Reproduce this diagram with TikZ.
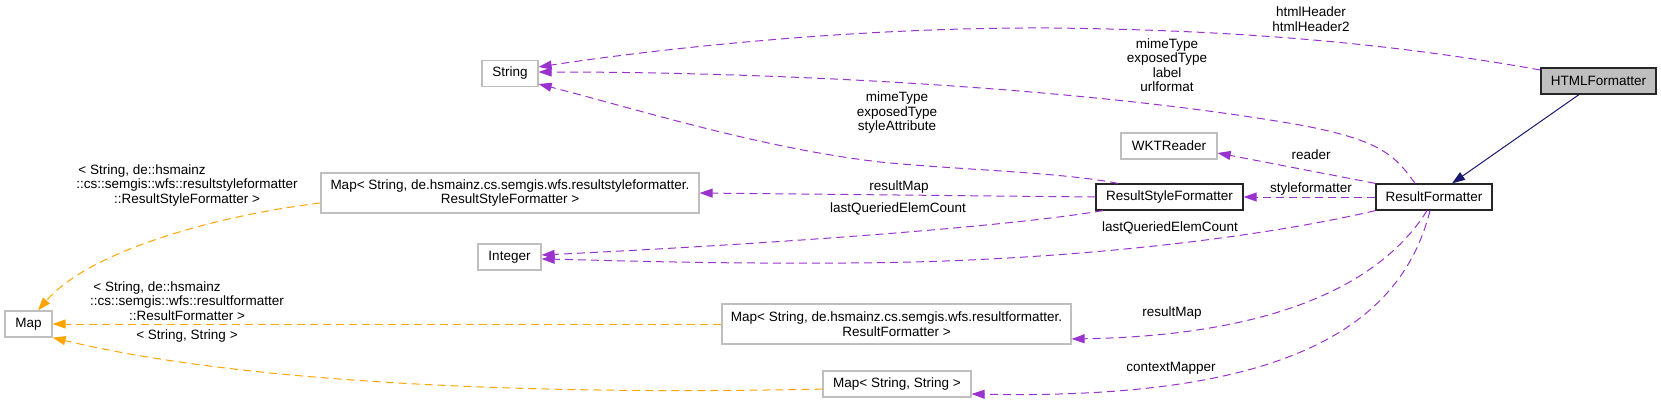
\documentclass[tikz,border=0pt]{standalone}
\usepackage{fontspec}
\setmainfont{Liberation Sans}
\usetikzlibrary{arrows.meta}
\definecolor{purp}{HTML}{9A32CD}
\definecolor{orng}{HTML}{FFA500}
\definecolor{navy}{HTML}{191970}
\definecolor{boxgray}{HTML}{BFBFBF}
\definecolor{fillgray}{HTML}{BFBFBF}
\begin{document}
\begin{tikzpicture}[x=1pt,y=-1pt,
  every node/.style={font=\fontsize{13.5}{14.5}\selectfont, inner sep=0pt},
  cls/.style={draw=boxgray, line width=1.2pt, fill=white, minimum height=26pt, align=center},
  mainbox/.style={draw=black!85, line width=1.2pt, fill=white, minimum height=26pt},
  usage/.style={draw=purp, line width=1pt, dash pattern=on 8pt off 5pt, -{Triangle[length=13pt,width=9pt]}},
  tmpl/.style={draw=orng, line width=1pt, dash pattern=on 8pt off 5pt, -{Triangle[length=13pt,width=9pt]}},
  inh/.style={draw=navy, line width=1pt, -{Triangle[length=13pt,width=9pt]}},
  lbl/.style={align=center}
]
\useasboundingbox (0,0) rectangle (1661,404);
% nodes
\node[mainbox, fill=fillgray, minimum width=115pt] (html) at (1598.5,81) {HTMLFormatter};
\node[mainbox, minimum width=116pt] (rf) at (1434,197) {ResultFormatter};
\node[mainbox, minimum width=147pt] (rsf) at (1169.5,197) {ResultStyleFormatter};
\node[cls, minimum width=96pt] (wkt) at (1169,146) {WKTReader};
\node[cls, minimum width=56pt] (str) at (510,73.5) {String};
\node[cls, minimum width=378pt, minimum height=40pt] (mrsf) at (510,193) {Map< String, de.hsmainz.cs.semgis.wfs.resultstyleformatter.\\ResultStyleFormatter >};
\node[cls, minimum width=63pt] (int) at (509.5,257) {Integer};
\node[cls, minimum width=47pt] (map) at (28.5,324) {Map};
\node[cls, minimum width=349pt, minimum height=40pt] (mrf) at (896.5,324) {Map< String, de.hsmainz.cs.semgis.wfs.resultformatter.\\ResultFormatter >};
\node[cls, minimum width=148pt] (mss) at (897,384) {Map< String, String >};
% edges
\draw[inh] ([xshift=-19.5pt]html.south) -- ([xshift=18pt]rf.north);
\draw[usage] ([yshift=11pt]html.west) .. controls (1400,45) and (1250,30) .. (1050,28) .. controls (850,27) and (650,50) .. ([yshift=6.5pt]str.east);
\draw[usage] ([xshift=-19pt]rf.north) .. controls (1395,155) and (1380,140) .. (1300,125) .. controls (1100,90) and (800,72) .. ([yshift=1.5pt]str.east);
\draw[usage] ([xshift=-51.5pt]rsf.north) .. controls (1060,172) and (960,170) .. (880,162) .. controls (760,148) and (640,110) .. ([yshift=-10.5pt]str.east);
\draw[usage] (rf.north west) -- ([yshift=-7pt]wkt.east);
\draw[usage] (rf.west) -- (rsf.east);
\draw[usage] (rsf.west) -- (mrsf.east);
\draw[usage] ([xshift=-66.5pt]rsf.south) .. controls (1000,228) and (750,245) .. ([yshift=2pt]int.east);
\draw[usage] (rf.south west) .. controls (1250,240) and (1050,262) .. (850,263) .. controls (700,264) and (600,260) .. ([yshift=-2pt]int.east);
\draw[usage] ([xshift=-7pt]rf.south) .. controls (1390,270) and (1300,335) .. ([yshift=-15pt]mrf.east);
\draw[usage] ([xshift=-4pt]rf.south) .. controls (1400,330) and (1280,400) .. ([yshift=-10pt]mss.east);
\draw[tmpl] ([yshift=-10pt]mrsf.west) .. controls (220,215) and (90,250) .. ([xshift=9.5pt]map.north);
\draw[tmpl] (mrf.west) -- (map.east);
\draw[tmpl] ([yshift=-5pt]mss.west) .. controls (550,395) and (250,385) .. (map.south east);
% labels
\node[lbl] (l1) at (1311,19) {htmlHeader\\htmlHeader2};
\node[lbl] (l2) at (1167,65) {mimeType\\exposedType\\label\\urlformat};
\node[lbl] (l3) at (897,113) {mimeType\\exposedType\\styleAttribute};
\node[lbl] (l4) at (1311,155) {reader};
\node[lbl] (l5) at (1311,189) {styleformatter};
\node[lbl] (l6) at (899,187) {resultMap};
\node[lbl] (l7) at (898,209) {lastQueriedElemCount};
\node[lbl] (l8) at (1170,228) {lastQueriedElemCount};
\node[lbl] (l9) at (1172,313) {resultMap};
\node[lbl] (l10) at (1171,368) {contextMapper};
\node[lbl] (l11) at (187,185.5) {{<} String, de::hsmainz\hspace*{90pt}\\::cs::semgis::wfs::resultstyleformatter\\::ResultStyleFormatter {>}};
\node[lbl] (l12) at (187,301) {{<} String, de::hsmainz\hspace*{60pt}\\::cs::semgis::wfs::resultformatter\\::ResultFormatter {>}};
\node[lbl] (l13) at (187,336) {{<} String, String {>}};
\end{tikzpicture}
\end{document}
